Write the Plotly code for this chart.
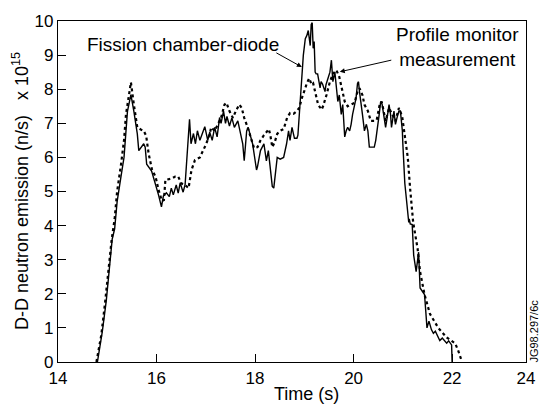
import plotly.graph_objects as go

# Fission chamber-diode (solid)
fc_t = [14.80, 14.90, 14.98, 15.05, 15.10, 15.15, 15.20, 15.28, 15.34, 15.41, 15.48, 15.54, 15.61, 15.64,
        15.74, 15.77, 15.80, 15.90, 15.98, 16.04, 16.10, 16.14, 16.20, 16.26, 16.30, 16.34, 16.40, 16.44,
        16.48, 16.54, 16.58, 16.67, 16.70, 16.75, 16.79, 16.83, 16.88, 16.93, 16.98, 17.04, 17.08, 17.13,
        17.18, 17.23, 17.28, 17.31, 17.36, 17.40, 17.43, 17.48, 17.53, 17.58, 17.65, 17.75, 17.78, 17.83,
        17.86, 17.95, 18.03, 18.05, 18.11, 18.18, 18.23, 18.27, 18.35, 18.38, 18.45, 18.51, 18.58, 18.64,
        18.68, 18.71, 18.75, 18.80, 18.85, 18.87, 18.90, 18.95, 18.98, 19.02, 19.05, 19.08, 19.12, 19.14,
        19.16, 19.18, 19.20, 19.22, 19.24, 19.27, 19.32, 19.34, 19.37, 19.42, 19.44, 19.47, 19.52, 19.55,
        19.56, 19.58, 19.62, 19.64, 19.68, 19.71, 19.75, 19.78, 19.82, 19.85, 19.88, 19.92, 19.95, 19.98,
        20.01, 20.05, 20.08, 20.10, 20.12, 20.16, 20.18, 20.22, 20.26, 20.29, 20.32, 20.39, 20.42, 20.45,
        20.49, 20.52, 20.55, 20.58, 20.61, 20.65, 20.68, 20.72, 20.75, 20.77, 20.82, 20.85, 20.88, 20.92,
        20.95, 20.99, 21.00, 21.02, 21.04, 21.08, 21.12, 21.13, 21.15, 21.19, 21.22, 21.27, 21.32, 21.35,
        21.44, 21.46, 21.49, 21.53, 21.58, 21.62, 21.66, 21.75, 21.80, 21.89, 21.93, 21.99, 22.00]
fc_v = [0.00, 0.90, 1.80, 2.80, 3.60, 3.90, 4.70, 5.45, 6.00, 7.35, 7.84, 7.35, 6.69, 6.20,
        6.40, 6.30, 5.80, 5.60, 5.24, 4.90, 4.55, 4.87, 4.96, 4.85, 5.10, 4.90, 5.19, 4.95,
        5.25, 4.98, 5.20, 7.12, 6.40, 6.70, 6.40, 6.78, 6.50, 6.70, 6.90, 6.50, 6.74, 6.50,
        6.88, 6.60, 7.17, 7.00, 7.36, 7.00, 7.20, 6.92, 7.16, 6.88, 7.07, 6.40, 5.90, 6.78,
        6.88, 6.40, 5.63, 5.73, 6.20, 6.40, 5.90, 6.20, 5.15, 5.10, 6.00, 5.95, 6.00, 6.40,
        6.78, 6.50, 6.88, 6.56, 6.56, 6.65, 7.36, 8.22, 9.00, 9.48, 9.57, 9.72, 9.28, 9.90,
        9.95, 9.20, 9.40, 8.50, 8.45, 8.45, 8.04, 8.22, 8.15, 7.93, 8.13, 8.27, 8.50, 8.85,
        8.70, 8.22, 8.50, 8.22, 7.64, 7.83, 7.26, 7.55, 6.60, 6.78, 6.88, 6.78, 6.97, 7.26,
        7.45, 7.74, 8.17, 8.22, 7.93, 7.55, 7.26, 6.78, 6.97, 6.78, 6.30, 6.30, 6.30, 6.50,
        6.88, 7.26, 7.64, 7.55, 7.26, 6.88, 7.15, 7.55, 7.26, 6.88, 7.36, 6.97, 7.15, 7.36,
        7.36, 6.78, 6.40, 5.82, 5.24, 4.67, 4.09, 4.20, 4.05, 4.03, 3.13, 2.65, 3.22, 2.17,
        1.98, 1.60, 1.00, 1.20, 0.95, 0.84, 0.90, 0.63, 0.70, 0.55, 0.62, 0.50, 0.00]

# Profile monitor measurement (dotted)
pm_t = [14.78, 14.88, 14.96, 15.03, 15.09, 15.15, 15.20, 15.28, 15.34, 15.38, 15.44, 15.48, 15.54, 15.61,
        15.68, 15.74, 15.79, 15.84, 15.91, 15.98, 16.04, 16.11, 16.15, 16.18, 16.31, 16.38, 16.44, 16.50,
        16.58, 16.65, 16.71, 16.78, 16.88, 16.95, 17.01, 17.08, 17.11, 17.18, 17.25, 17.31, 17.38, 17.42,
        17.48, 17.55, 17.61, 17.68, 17.73, 17.78, 17.85, 17.91, 17.98, 18.05, 18.11, 18.18, 18.25, 18.28,
        18.31, 18.35, 18.40, 18.45, 18.51, 18.58, 18.65, 18.71, 18.78, 18.85, 18.90, 18.95, 19.02, 19.05,
        19.10, 19.15, 19.18, 19.22, 19.28, 19.35, 19.38, 19.45, 19.52, 19.58, 19.65, 19.71, 19.78, 19.82,
        19.88, 19.95, 20.02, 20.08, 20.12, 20.18, 20.22, 20.29, 20.35, 20.42, 20.47, 20.53, 20.57, 20.61,
        20.65, 20.72, 20.79, 20.85, 20.92, 20.95, 20.99, 21.05, 21.10, 21.15, 21.21, 21.30, 21.35, 21.44,
        21.55, 21.72, 21.89, 22.06, 22.12, 22.19]
pm_v = [0.00, 0.80, 1.80, 2.80, 3.60, 4.20, 5.00, 5.80, 6.50, 7.26, 7.90, 8.20, 7.55, 6.88,
        6.82, 6.78, 6.63, 6.11, 5.63, 5.44, 5.05, 4.72, 4.75, 5.34, 5.38, 5.44, 5.44, 5.24,
        5.19, 5.10, 5.63, 5.92, 6.00, 6.20, 6.40, 6.69, 6.88, 6.78, 6.97, 7.16, 7.55, 7.60,
        7.36, 7.16, 7.36, 7.55, 7.45, 7.16, 6.88, 6.56, 6.27, 6.30, 6.50, 6.65, 6.78, 6.83,
        6.65, 6.30, 6.45, 6.69, 6.78, 6.83, 7.16, 7.30, 7.28, 7.36, 7.46, 7.74, 8.03, 8.17,
        8.32, 8.13, 8.17, 7.93, 7.55, 7.40, 7.50, 7.83, 8.22, 8.45, 8.56, 8.36, 7.93, 7.64,
        7.50, 7.55, 7.60, 7.93, 8.03, 7.83, 7.55, 7.36, 7.07, 7.07, 7.10, 7.55, 7.64, 7.36,
        7.07, 7.45, 7.26, 7.07, 7.45, 7.35, 7.16, 6.60, 6.00, 5.05, 4.09, 3.32, 2.65, 1.98,
        1.41, 1.00, 0.72, 0.55, 0.35, 0.05]

# The reference's frame ends just after 23.5 s while its last tick is labelled "24"
x_tickvals = [14, 16, 18, 20, 22, 23.5]
x_ticktext = ["14", "16", "18", "20", "22", "24"]
y_ticks = [0, 1, 2, 3, 4, 5, 6, 7, 8, 9, 10]

FONT = "Liberation Sans, Arial, Helvetica, sans-serif"

fig = go.Figure()
fig.add_trace(go.Scatter(x=fc_t, y=fc_v, mode="lines",
                         line=dict(color="black", width=1.4), name="Fission chamber-diode"))
fig.add_trace(go.Scatter(x=pm_t, y=pm_v, mode="lines",
                         line=dict(color="black", width=2.2, dash="dot"), name="Profile monitor measurement"))

axis_common = dict(showgrid=False, zeroline=False, showline=True, linecolor="black", linewidth=1.3,
                   mirror=True, ticks="inside", ticklen=8, tickwidth=1, tickcolor="black",
                   tickfont=dict(family=FONT, size=17, color="black"))
fig.update_xaxes(range=[14, 23.5], tickvals=x_tickvals, ticktext=x_ticktext, **axis_common)
fig.update_yaxes(range=[0, 10], tickvals=y_ticks, **axis_common)

fig.update_layout(
    width=547, height=407, showlegend=False,
    margin=dict(l=58, r=15, t=15, b=45),
    plot_bgcolor="white", paper_bgcolor="white",
    font=dict(family=FONT, color="black"),
    annotations=[
        dict(text="Time (s)", xref="paper", yref="paper", x=0.532, y=-0.094, xanchor="center",
             yanchor="middle", showarrow=False, font=dict(size=18)),
        dict(text="D-D neutron emission (n/s)\u00a0\u00a0\u00a0x 10<sup>15</sup>", xref="paper", yref="paper",
             x=-0.080, y=0.5, xanchor="center", yanchor="middle", textangle=-90, showarrow=False,
             font=dict(size=18)),
        dict(text="JG98.297/6c", xref="paper", yref="paper", x=1.017, y=0.092, xanchor="center",
             yanchor="middle", textangle=-90, showarrow=False, font=dict(size=11)),
        dict(text="Fission chamber-diode", xref="paper", yref="paper", x=0.057, y=0.931, xanchor="left",
             yanchor="middle", showarrow=False, font=dict(size=19)),
        dict(text="Profile monitor<br>measurement", xref="paper", yref="paper", x=0.854, y=0.924,
             xanchor="center", yanchor="middle", showarrow=False, font=dict(size=19), align="center"),
        dict(text="", xref="x", yref="y", x=18.95, y=8.65, ax=-27, ay=-15, axref="pixel", ayref="pixel",
             showarrow=True, arrowhead=2, arrowsize=1, arrowwidth=1, arrowcolor="black"),
        dict(text="", xref="x", yref="y", x=19.72, y=8.51, ax=53, ay=-12, axref="pixel", ayref="pixel",
             showarrow=True, arrowhead=2, arrowsize=1, arrowwidth=1, arrowcolor="black"),
    ],
)

fig.write_html("out.html", config={"displayModeBar": False},
               post_script="document.body.style.margin='0';document.body.style.overflow='hidden';")
